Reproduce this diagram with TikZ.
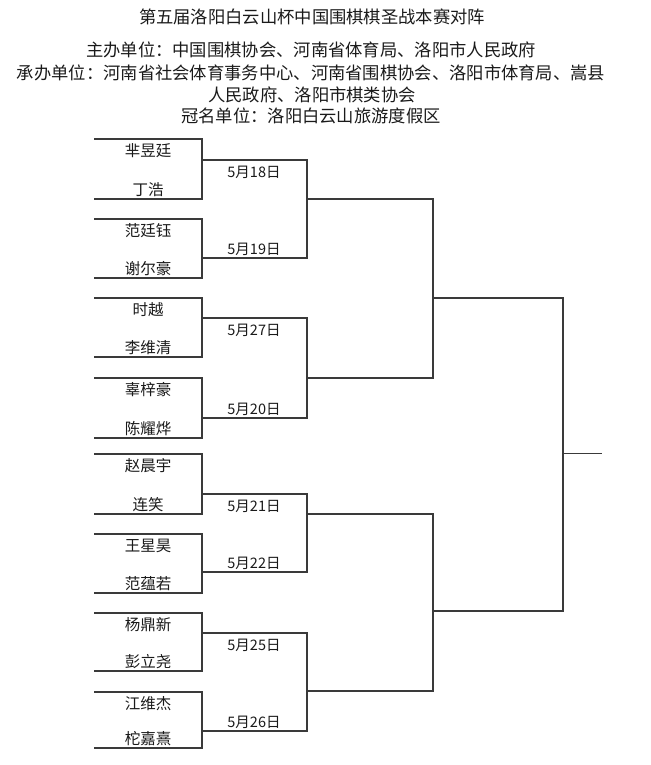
\documentclass[tikz,border=0pt]{standalone}
\usepackage{fontspec}
\setmainfont{Noto Sans CJK SC}
\definecolor{linegray}{HTML}{3A3A3A}
\definecolor{textgray}{HTML}{1A1A1A}
\begin{document}
\begin{tikzpicture}[x=1pt,y=-1pt,
  bl/.style={draw=linegray,line width=1.1pt},
  nm/.style={inner sep=0pt,font=\fontsize{15.5}{15.5}\selectfont,text=textgray},
  dt/.style={inner sep=0pt,font=\fontsize{14.5}{14.5}\selectfont,text=textgray},
  hd/.style={inner sep=0pt,font=\fontsize{17.3}{17.3}\selectfont,text=textgray}]
\useasboundingbox (0,0) rectangle (650,765);
% header
\node[hd] (title) at (312,17) {第五届洛阳白云山杯中国围棋棋圣战本赛对阵};
\node[hd] (h1) at (311,50) {主办单位：中国围棋协会、河南省体育局、洛阳市人民政府};
\node[hd] (h2) at (311,73) {承办单位：河南省社会体育事务中心、河南省围棋协会、洛阳市体育局、嵩县};
\node[hd] (h3) at (312,95) {人民政府、洛阳市棋类协会};
\node[hd] (h4) at (311,116) {冠名单位：洛阳白云山旅游度假区};
% player pairs
\foreach \i/\t/\b/\na/\nb in {1/139/199/芈昱廷/丁浩, 2/219/278/范廷钰/谢尔豪,
   3/298/357/时越/李维清, 4/378/438/辜梓豪/陈耀烨, 5/454/514/赵晨宇/连笑,
   6/534/593/王星昊/范蕴若, 7/613/671/杨鼎新/彭立尧, 8/692/748/江维杰/柁嘉熹}{
  \coordinate (p\i t) at (94,\t);
  \coordinate (p\i b) at (94,\b);
  \coordinate (p\i tr) at (202,\t);
  \coordinate (p\i br) at (202,\b);
  \draw[bl] (p\i t) -- (p\i tr) -- (p\i br) -- (p\i b);
  \node[nm] (n\i a) at (148,\t+12) {\na};
  \node[nm] (n\i b) at (148,\b-9) {\nb};
}
% first round
\foreach \j/\t/\b/\o/\da/\db in {1/160/258/199/5月18日/5月19日, 2/318/418/378/5月27日/5月20日,
   3/494/572/514/5月21日/5月22日, 4/633/731/691/5月25日/5月26日}{
  \coordinate (r\j a) at (202,\t);
  \coordinate (r\j b) at (202,\b);
  \coordinate (r\j ar) at (307,\t);
  \coordinate (r\j br) at (307,\b);
  \coordinate (r\j o) at (307,\o);
  \draw[bl] (r\j a) -- (r\j ar) -- (r\j br) -- (r\j b);
  \node[dt] (d\j a) at (254,\t+12) {\da};
  \node[dt] (d\j b) at (254,\b-9) {\db};
}
% second round
\coordinate (s1t) at (433,199);
\coordinate (s1b) at (433,378);
\coordinate (s1o) at (433,298);
\coordinate (s2t) at (433,514);
\coordinate (s2b) at (433,691);
\coordinate (s2o) at (433,611);
\draw[bl] (r1o) -- (s1t) -- (s1b) -- (r2o);
\draw[bl] (r3o) -- (s2t) -- (s2b) -- (r4o);
% final
\coordinate (ft) at (563,298);
\coordinate (fb) at (563,611);
\coordinate (fo) at (563,453.5);
\coordinate (fend) at (602,453.5);
\draw[bl] (s1o) -- (ft) -- (fb) -- (s2o);
\draw[bl] (fo) -- (fend);
\end{tikzpicture}
\end{document}
